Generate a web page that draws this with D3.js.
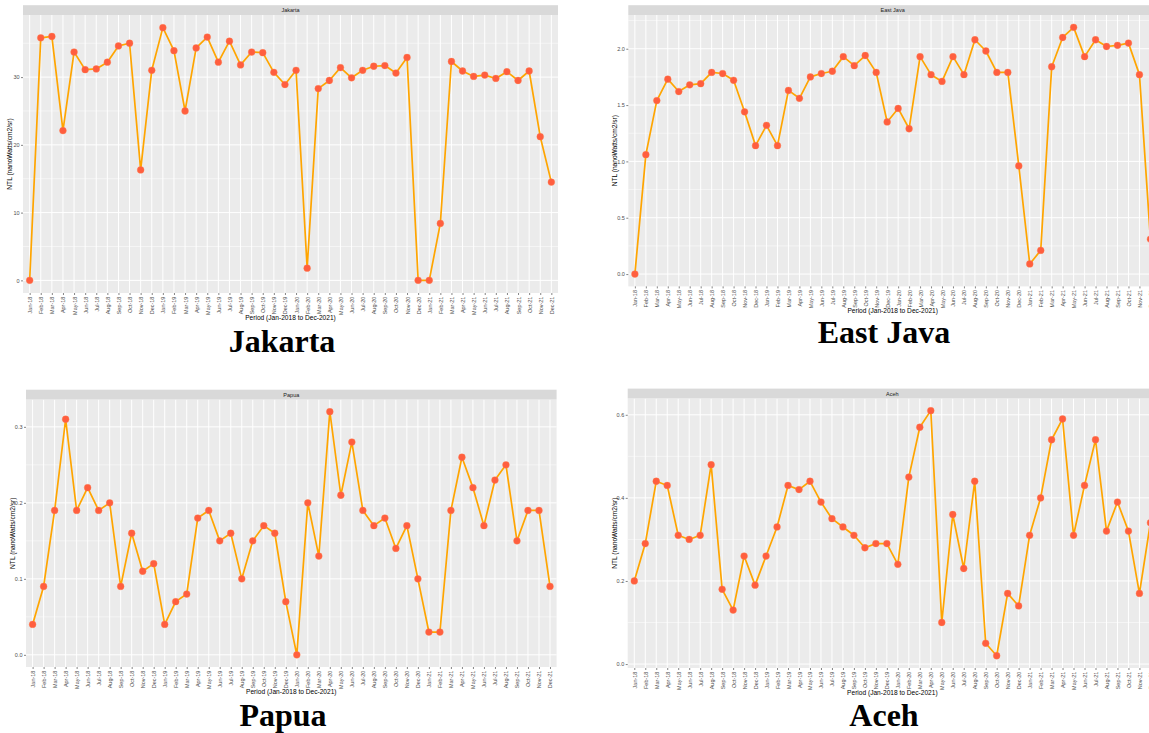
<!DOCTYPE html>
<html>
<head>
<meta charset="utf-8">
<script src="https://cdn.jsdelivr.net/npm/d3@7"></script>
<style>
  html, body { margin: 0; padding: 0; background: #ffffff; }
  svg { display: block; }
</style>
</head>
<body>
<svg id="chart" width="1149" height="733"></svg>
<script>
// ---------------- DATA ----------------
const months = [
  "Jan-18","Feb-18","Mar-18","Apr-18","May-18","Jun-18","Jul-18","Aug-18","Sep-18","Oct-18","Nov-18","Dec-18",
  "Jan-19","Feb-19","Mar-19","Apr-19","May-19","Jun-19","Jul-19","Aug-19","Sep-19","Oct-19","Nov-19","Dec-19",
  "Jan-20","Feb-20","Mar-20","Apr-20","May-20","Jun-20","Jul-20","Aug-20","Sep-20","Oct-20","Nov-20","Dec-20",
  "Jan-21","Feb-21","Mar-21","Apr-21","May-21","Jun-21","Jul-21","Aug-21","Sep-21","Oct-21","Nov-21","Dec-21"
];

const jakarta = [
  0.0, 35.8, 36.0, 22.1, 33.7, 31.1, 31.2, 32.2, 34.6, 35.0, 16.3, 31.0,
  37.3, 33.9, 25.0, 34.3, 35.9, 32.2, 35.3, 31.8, 33.7, 33.6, 30.7, 28.9,
  31.0, 1.8, 28.3, 29.5, 31.4, 29.9, 31.0, 31.6, 31.7, 30.6, 32.9, 0.0,
  0.0, 8.4, 32.3, 30.9, 30.1, 30.3, 29.8, 30.8, 29.5, 30.9, 21.2, 14.5
];

const eastJava = [
  0.00, 1.06, 1.54, 1.73, 1.62, 1.68, 1.69, 1.79, 1.78, 1.72, 1.44, 1.14,
  1.32, 1.14, 1.63, 1.56, 1.75, 1.78, 1.80, 1.93, 1.85, 1.94, 1.79, 1.35,
  1.47, 1.29, 1.93, 1.77, 1.71, 1.93, 1.77, 2.08, 1.98, 1.79, 1.79, 0.96,
  0.09, 0.21, 1.84, 2.10, 2.19, 1.93, 2.08, 2.02, 2.03, 2.05, 1.77, 0.31
];

const papua = [
  0.04, 0.09, 0.19, 0.31, 0.19, 0.22, 0.19, 0.20, 0.09, 0.16, 0.11, 0.12,
  0.04, 0.07, 0.08, 0.18, 0.19, 0.15, 0.16, 0.10, 0.15, 0.17, 0.16, 0.07,
  0.00, 0.20, 0.13, 0.32, 0.21, 0.28, 0.19, 0.17, 0.18, 0.14, 0.17, 0.10,
  0.03, 0.03, 0.19, 0.26, 0.22, 0.17, 0.23, 0.25, 0.15, 0.19, 0.19, 0.09
];

const aceh = [
  0.20, 0.29, 0.44, 0.43, 0.31, 0.30, 0.31, 0.48, 0.18, 0.13, 0.26, 0.19,
  0.26, 0.33, 0.43, 0.42, 0.44, 0.39, 0.35, 0.33, 0.31, 0.28, 0.29, 0.29,
  0.24, 0.45, 0.57, 0.61, 0.10, 0.36, 0.23, 0.44, 0.05, 0.02, 0.17, 0.14,
  0.31, 0.40, 0.54, 0.59, 0.31, 0.43, 0.54, 0.32, 0.39, 0.32, 0.17, 0.34
];

const jakartaTicks  = [0, 10, 20, 30];
const eastJavaTicks = [0.0, 0.5, 1.0, 1.5, 2.0];
const papuaTicks    = [0.0, 0.1, 0.2, 0.3];
const acehTicks     = [0.0, 0.2, 0.4, 0.6];

const regionNames = ["Jakarta", "East Java", "Papua", "Aceh"];
const yAxisTitle = "NTL (nanoWatts/cm2/sr)";
const xAxisTitle = "Period (Jan-2018 to Dec-2021)";

// ---------------- LAYOUT / STYLE ----------------
const svg = d3.select("#chart");
svg.append("rect").attr("width", 1149).attr("height", 733).attr("fill", "#ffffff");

const panels = [
  { name: regionNames[0], values: jakarta,  ticks: jakartaTicks,  fmt: d3.format("d"),
    box: { l: 23,    t: 15,    r: 558,   b: 293 },   label: { x: 282, y: 352 } },
  { name: regionNames[1], values: eastJava, ticks: eastJavaTicks, fmt: d3.format(".1f"),
    box: { l: 628.3, t: 15,    r: 1157,  b: 286.4 }, label: { x: 884, y: 343 } },
  { name: regionNames[2], values: papua,    ticks: papuaTicks,    fmt: d3.format(".1f"),
    box: { l: 26,    t: 399.5, r: 556.6, b: 667 },   label: { x: 283, y: 726 } },
  { name: regionNames[3], values: aceh,     ticks: acehTicks,     fmt: d3.format(".1f"),
    box: { l: 627.7, t: 398.4, r: 1157,  b: 668 },   label: { x: 884, y: 726 } }
];

const FONT = "'Liberation Sans', Arial, sans-serif";
const SERIF = "'Liberation Serif', 'Times New Roman', serif";

panels.forEach(p => {
  const { l, t, r, b } = p.box;
  const g = svg.append("g");

  const x = d3.scalePoint().domain(months).range([l, r]).padding(0.6);
  const ext = d3.extent(p.values);
  const pad = (ext[1] - ext[0]) * 0.05;
  const y = d3.scaleLinear().domain([ext[0] - pad, ext[1] + pad]).range([b, t]);

  // panel background
  g.append("rect").attr("x", l).attr("y", t).attr("width", r - l).attr("height", b - t)
    .attr("fill", "#EBEBEB");

  // minor horizontal gridlines
  const step = p.ticks[1] - p.ticks[0];
  const minor = [];
  for (let i = -1; i < p.ticks.length; i++) {
    const v = p.ticks[0] + step * (i + 0.5);
    if (y(v) >= t && y(v) <= b) minor.push(v);
  }
  g.selectAll(".minor").data(minor).enter().append("line")
    .attr("x1", l).attr("x2", r).attr("y1", d => y(d)).attr("y2", d => y(d))
    .attr("stroke", "#ffffff").attr("stroke-width", 0.5);

  // major gridlines
  g.selectAll(".hmaj").data(p.ticks).enter().append("line")
    .attr("x1", l).attr("x2", r).attr("y1", d => y(d)).attr("y2", d => y(d))
    .attr("stroke", "#ffffff").attr("stroke-width", 1);
  g.selectAll(".vmaj").data(months).enter().append("line")
    .attr("x1", d => x(d)).attr("x2", d => x(d)).attr("y1", t).attr("y2", b)
    .attr("stroke", "#ffffff").attr("stroke-width", 1);

  // strip
  g.append("rect").attr("x", l).attr("y", t - 9.8).attr("width", r - l).attr("height", 9.8)
    .attr("fill", "#D9D9D9");
  g.append("text").attr("x", (l + r) / 2).attr("y", t - 4.9)
    .attr("text-anchor", "middle").attr("dominant-baseline", "central")
    .attr("font-family", FONT).attr("font-size", 5.5).attr("fill", "#1A1A1A")
    .text(p.name);

  // y axis
  const yAxis = d3.axisLeft(y).tickValues(p.ticks).tickFormat(p.fmt).tickSize(2).tickPadding(1.5);
  const ya = g.append("g").attr("transform", `translate(${l},0)`).call(yAxis);
  ya.select(".domain").remove();
  ya.selectAll("line").attr("stroke", "#333333").attr("stroke-width", 0.6);
  ya.selectAll("text").attr("font-family", FONT).attr("font-size", 5.5).attr("fill", "#4D4D4D");

  // x axis
  const xAxis = d3.axisBottom(x).tickSize(2).tickPadding(1.5);
  const xa = g.append("g").attr("transform", `translate(0,${b})`).call(xAxis);
  xa.select(".domain").remove();
  xa.selectAll("line").attr("stroke", "#333333").attr("stroke-width", 0.6);
  xa.selectAll("text")
    .attr("font-family", FONT).attr("font-size", 5.5).attr("fill", "#4D4D4D")
    .attr("text-anchor", "end").attr("dominant-baseline", "central")
    .attr("dy", null).attr("y", 0)
    .attr("transform", "translate(0,3.6) rotate(-90)");

  // axis titles
  g.append("text").attr("x", (l + r) / 2).attr("y", b + 24.5)
    .attr("text-anchor", "middle").attr("dominant-baseline", "central")
    .attr("font-family", FONT).attr("font-size", 6.6).attr("fill", "#000000")
    .text(xAxisTitle);
  g.append("text")
    .attr("transform", `translate(${l - 13.5},${(t + b) / 2}) rotate(-90)`)
    .attr("text-anchor", "middle").attr("dominant-baseline", "central")
    .attr("font-family", FONT).attr("font-size", 6.6).attr("fill", "#000000")
    .text(yAxisTitle);

  // line
  const line = d3.line().x((d, i) => x(months[i])).y(d => y(d));
  g.append("path").datum(p.values).attr("d", line)
    .attr("fill", "none").attr("stroke", "#FFA500").attr("stroke-width", 1.7)
    .attr("stroke-linejoin", "round");

  // points
  g.selectAll(".pt").data(p.values).enter().append("circle")
    .attr("cx", (d, i) => x(months[i])).attr("cy", d => y(d)).attr("r", 3.4)
    .attr("fill", "#FF5E3F").attr("stroke", "#FF7A4A").attr("stroke-width", 0.4);

  // big region label
  svg.append("text").attr("x", p.label.x).attr("y", p.label.y)
    .attr("text-anchor", "middle")
    .attr("font-family", SERIF).attr("font-weight", "bold").attr("font-size", 32)
    .attr("fill", "#000000")
    .text(p.name);
});
</script>
</body>
</html>
